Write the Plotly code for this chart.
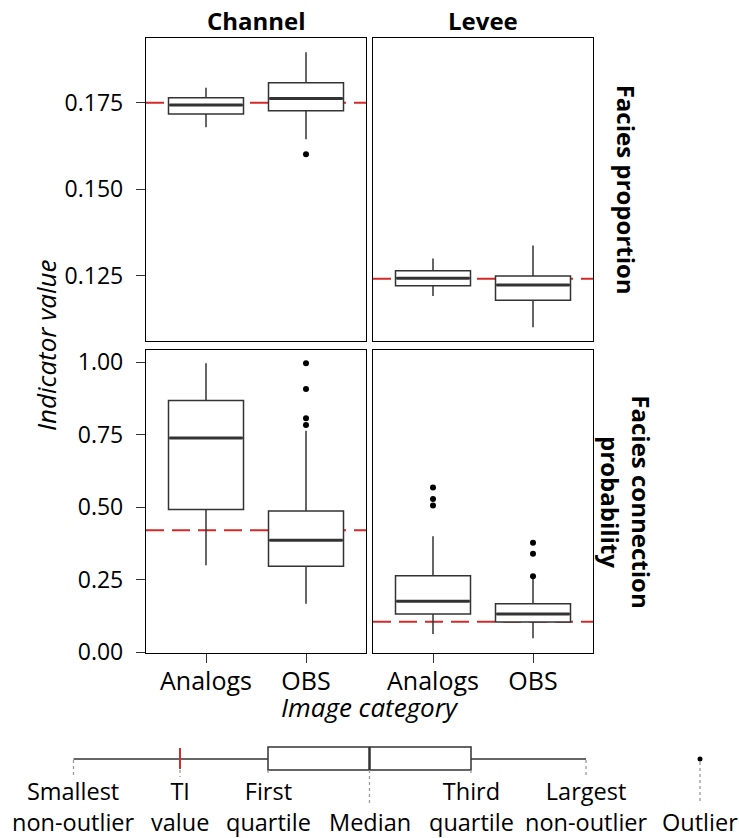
import plotly.graph_objects as go

W, H = 739, 838
FONT = "Open Sans"

categories = ["Analogs", "OBS"]
cat_pos = [1, 2]
facets = ["Channel", "Levee"]
indicators = ["Facies proportion", "Facies connection<br>probability"]

prop_channel_lower = [0.1679, 0.1644]
prop_channel_q1 = [0.1717, 0.1727]
prop_channel_median = [0.1743, 0.1762]
prop_channel_q3 = [0.1764, 0.1808]
prop_channel_upper = [0.1793, 0.1896]
prop_channel_outliers = [[], [0.1601]]
prop_channel_ti = 0.175

prop_levee_lower = [0.1191, 0.1101]
prop_levee_q1 = [0.1221, 0.1179]
prop_levee_median = [0.1243, 0.1223]
prop_levee_q3 = [0.1264, 0.1249]
prop_levee_upper = [0.1300, 0.1337]
prop_levee_outliers = [[], []]
prop_levee_ti = 0.1241

conn_channel_lower = [0.300, 0.167]
conn_channel_q1 = [0.492, 0.297]
conn_channel_median = [0.739, 0.386]
conn_channel_q3 = [0.868, 0.487]
conn_channel_upper = [0.997, 0.764]
conn_channel_outliers = [[], [0.997, 0.908, 0.807, 0.784]]
conn_channel_ti = 0.4207

conn_levee_lower = [0.063, 0.048]
conn_levee_q1 = [0.132, 0.1045]
conn_levee_median = [0.176, 0.132]
conn_levee_q3 = [0.264, 0.167]
conn_levee_upper = [0.400, 0.255]
conn_levee_outliers = [[0.568, 0.529, 0.506], [0.378, 0.340, 0.262]]
conn_levee_ti = 0.1055

prop_ticks = [0.125, 0.150, 0.175]
prop_ticklabels = ["0.125", "0.150", "0.175"]
conn_ticks = [0.0, 0.25, 0.5, 0.75, 1.0]
conn_ticklabels = ["0.00", "0.25", "0.50", "0.75", "1.00"]

panels = [
    ("x", "y", prop_channel_lower, prop_channel_q1, prop_channel_median, prop_channel_q3, prop_channel_upper, prop_channel_outliers, prop_channel_ti),
    ("x2", "y2", prop_levee_lower, prop_levee_q1, prop_levee_median, prop_levee_q3, prop_levee_upper, prop_levee_outliers, prop_levee_ti),
    ("x3", "y3", conn_channel_lower, conn_channel_q1, conn_channel_median, conn_channel_q3, conn_channel_upper, conn_channel_outliers, conn_channel_ti),
    ("x4", "y4", conn_levee_lower, conn_levee_q1, conn_levee_median, conn_levee_q3, conn_levee_upper, conn_levee_outliers, conn_levee_ti),
]

BOXW = 0.75
BOXCOL = "#333333"
RED = "#D42A2A"

def px(x):
    return x / W

def py(y):
    return 1 - y / H

fig = go.Figure()
shapes = []
for xa, ya, lo, q1, med, q3, hi, outs, ti in panels:
    shapes.append(dict(type="line", xref=f"{xa} domain", yref=ya, x0=0, x1=1, y0=ti, y1=ti,
                       line=dict(color=RED, width=2, dash="18px,8px"), layer="below"))
    for i, p in enumerate(cat_pos):
        fig.add_trace(go.Box(x=[p], q1=[q1[i]], median=[med[i]], q3=[q3[i]],
                             lowerfence=[lo[i]], upperfence=[hi[i]], width=BOXW,
                             fillcolor="white", line=dict(color=BOXCOL, width=1.5),
                             whiskerwidth=0, boxpoints=False, xaxis=xa, yaxis=ya,
                             showlegend=False, hoverinfo="skip"))
        fig.add_trace(go.Scatter(x=[p - BOXW / 2 + 0.01, p + BOXW / 2 - 0.01], y=[med[i], med[i]],
                                 mode="lines", line=dict(color=BOXCOL, width=3),
                                 xaxis=xa, yaxis=ya, showlegend=False, hoverinfo="skip"))
        if outs[i]:
            fig.add_trace(go.Scatter(x=[p] * len(outs[i]), y=outs[i], mode="markers",
                                     marker=dict(color="black", size=6),
                                     xaxis=xa, yaxis=ya, showlegend=False, hoverinfo="skip"))

xl = [px(146), px(366)]
xr = [px(373), px(593)]
yt = [py(341), py(38.3)]
yb = [py(652.7), py(350)]

axis_common = dict(showgrid=False, zeroline=False, showline=True, mirror=True,
                   linecolor="black", linewidth=1.3)

layout = dict(
    width=W, height=H,
    margin=dict(l=0, r=0, t=0, b=0, autoexpand=False),
    paper_bgcolor="white", plot_bgcolor="rgba(0,0,0,0)",
    font=dict(family=FONT, color="black"),
    showlegend=False,
)
for name, dom, anchor, bottom in [("xaxis", xl, "y", False), ("xaxis2", xr, "y2", False),
                                  ("xaxis3", xl, "y3", True), ("xaxis4", xr, "y4", True)]:
    ax = dict(axis_common, domain=dom, anchor=anchor, range=[0.4, 2.6], tickvals=cat_pos,
              ticktext=categories, tickfont=dict(family=FONT, size=25, color="black"))
    if bottom:
        ax.update(ticks="outside", ticklen=9, tickwidth=1.3, tickcolor="#333333",
                  showticklabels=True, ticklabelstandoff=-3)
    else:
        ax.update(ticks="", showticklabels=False)
    layout[name] = ax

prop_range = [0.10613, 0.19361]
conn_range = [-0.0014, 1.0424]
for name, dom, anchor, rng, tv, tt, left in [
    ("yaxis", yt, "x", prop_range, prop_ticks, prop_ticklabels, True),
    ("yaxis2", yt, "x2", prop_range, prop_ticks, prop_ticklabels, False),
    ("yaxis3", yb, "x3", conn_range, conn_ticks, conn_ticklabels, True),
    ("yaxis4", yb, "x4", conn_range, conn_ticks, conn_ticklabels, False),
]:
    ay = dict(axis_common, domain=dom, anchor=anchor, range=rng, tickvals=tv, ticktext=tt,
              tickfont=dict(family=FONT, size=23, color="black"))
    if left:
        ay.update(ticks="outside", ticklen=9, tickwidth=1.3, tickcolor="#333333",
                  showticklabels=True, ticklabelstandoff=8)
    else:
        ay.update(ticks="", showticklabels=False)
    layout[name] = ay

annotations = []
for f, dom in zip(facets, [xl, xr]):
    annotations.append(dict(text=f"<b>{f}</b>", x=(dom[0] + dom[1]) / 2, y=py(20),
                            xref="paper", yref="paper", showarrow=False,
                            xanchor="center", yanchor="middle", font=dict(family=FONT, size=24)))
for ind, dom in zip(indicators, [yt, yb]):
    annotations.append(dict(text=f"<b>{ind}</b>", x=px(626), y=(dom[0] + dom[1]) / 2,
                            xref="paper", yref="paper", showarrow=False, textangle=90,
                            xanchor="center", yanchor="middle", font=dict(family=FONT, size=24)))
annotations.append(dict(text="<i>Indicator value</i>", x=px(46), y=py(345), xref="paper", yref="paper",
                        showarrow=False, textangle=-90, xanchor="center", yanchor="middle",
                        font=dict(family=FONT, size=26)))
annotations.append(dict(text="<i>Image category</i>", x=px(370), y=py(707), xref="paper", yref="paper",
                        showarrow=False, xanchor="center", yanchor="middle",
                        font=dict(family=FONT, size=26)))

# ---- key explaining the box plot ----
key_x = dict(smallest=73.5, ti=180, q1=268, median=369.5, q3=471, largest=586, outlier=700)
key_y = dict(mid=759, top=747, bot=770)
line_k = dict(color=BOXCOL, width=1.5)
shapes += [
    dict(type="line", xref="paper", yref="paper", x0=px(key_x["smallest"]), x1=px(key_x["q1"]),
         y0=py(key_y["mid"]), y1=py(key_y["mid"]), line=line_k),
    dict(type="line", xref="paper", yref="paper", x0=px(key_x["q3"]), x1=px(key_x["largest"]),
         y0=py(key_y["mid"]), y1=py(key_y["mid"]), line=line_k),
    dict(type="rect", xref="paper", yref="paper", x0=px(key_x["q1"]), x1=px(key_x["q3"]),
         y0=py(key_y["bot"]), y1=py(key_y["top"]), line=line_k, fillcolor="white"),
    dict(type="line", xref="paper", yref="paper", x0=px(key_x["median"]), x1=px(key_x["median"]),
         y0=py(key_y["bot"]), y1=py(key_y["top"]), line=dict(color=BOXCOL, width=2.5)),
    dict(type="line", xref="paper", yref="paper", x0=px(key_x["ti"]), x1=px(key_x["ti"]),
         y0=py(748), y1=py(769), line=dict(color=RED, width=2)),
    dict(type="circle", xref="paper", yref="paper", x0=px(key_x["outlier"] - 2.5), x1=px(key_x["outlier"] + 2.5),
         y0=py(key_y["mid"] + 2.5), y1=py(key_y["mid"] - 2.5), line=dict(color="black", width=0),
         fillcolor="black"),
]
dots = [("smallest", 760, 775), ("ti", 770, 777), ("q1", 770, 775), ("median", 770, 803),
        ("q3", 770, 775), ("largest", 760, 775), ("outlier", 762, 803)]
for k, y0, y1 in dots:
    shapes.append(dict(type="line", xref="paper", yref="paper", x0=px(key_x[k]), x1=px(key_x[k]),
                       y0=py(y0), y1=py(y1), line=dict(color="#999999", width=1.3, dash="dot")))

key_labels = [("smallest", "Smallest<br>non-outlier"), ("ti", "TI<br>value"), ("q1", "First<br>quartile"),
              ("median", "Median"), ("q3", "Third<br>quartile"), ("largest", "Largest<br>non-outlier"),
              ("outlier", "Outlier")]
for k, txt in key_labels:
    yy = 806.5 if "<br>" in txt else 821.5
    annotations.append(dict(text=txt, x=px(key_x[k]), y=py(yy), xref="paper", yref="paper",
                            showarrow=False, xanchor="center", yanchor="middle",
                            font=dict(family=FONT, size=23.5)))

layout["shapes"] = shapes
layout["annotations"] = annotations
fig.update_layout(**layout)

fig.write_html("out.html", config={"displayModeBar": False},
               post_script="document.body.style.margin='0';document.body.style.overflow='hidden';")
